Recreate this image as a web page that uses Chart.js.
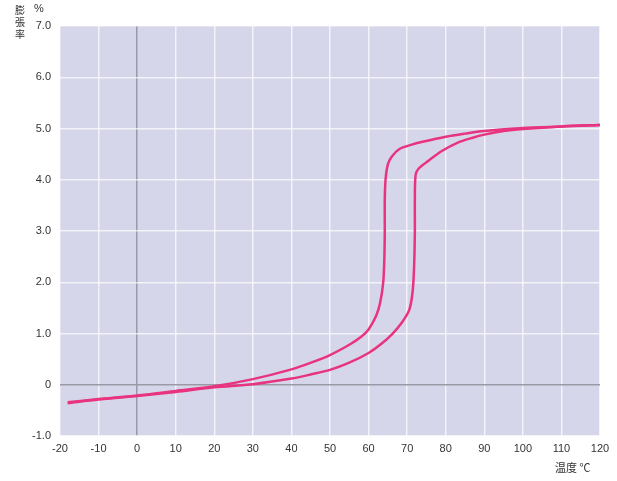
<!DOCTYPE html>
<html>
<head>
<meta charset="utf-8">
<script src="https://cdn.jsdelivr.net/npm/chart.js@4"></script>
<style>
  body { margin: 0; background: #fff; font-family: "Liberation Sans", Arial, sans-serif; }
  #wrap { position: relative; width: 617px; height: 481px; }
  .lbl { position: absolute; color: #333; font-size: 11px; line-height: 12px; white-space: nowrap; }
  .yc { font-family: "Noto Sans CJK JP", sans-serif; font-size: 10px; line-height: 11px; left: 15px; }
  #yunit { left: 34px; top: 2px; }
  #xlab { left: 555px; top: 461px; font-family: "Noto Sans CJK JP", sans-serif; }
</style>
</head>
<body>
<div id="wrap">
  <canvas id="chart" width="617" height="481"></canvas>
  <div class="lbl yc" style="top:4px">膨</div>
  <div class="lbl yc" style="top:16px">張</div>
  <div class="lbl yc" style="top:28px">率</div>
  <div class="lbl" id="yunit">%</div>
  <div class="lbl" id="xlab">温度 ℃</div>
</div>
<script>
// cooling curve (upper / left branch)
var coolX = [-18, -10, 0, 10, 20, 30, 40, 45, 50, 55, 58, 60, 62, 63, 63.8, 64.1, 64.2, 64.2, 64.4, 65, 66, 68, 71, 74, 80, 85, 90, 100, 110, 120];
var coolY = [-0.34, -0.28, -0.21, -0.12, -0.03, 0.11, 0.30, 0.43, 0.58, 0.78, 0.93, 1.08, 1.35, 1.6, 2.0, 2.5, 3.0, 3.6, 4.0, 4.3, 4.45, 4.6, 4.68, 4.74, 4.84, 4.9, 4.95, 5.01, 5.04, 5.07];
// heating curve (lower / right branch)
var heatX = [-18, -10, 0, 10, 20, 30, 40, 45, 50, 55, 60, 63, 66, 68.5, 70.5, 71.4, 71.8, 72, 72, 72.2, 73, 75.5, 79, 83, 87, 90, 95, 100, 110, 120];
var heatY = [-0.36, -0.29, -0.22, -0.14, -0.05, 0.01, 0.12, 0.20, 0.29, 0.43, 0.62, 0.78, 0.98, 1.2, 1.45, 1.8, 2.3, 3.0, 3.6, 4.1, 4.22, 4.37, 4.56, 4.72, 4.82, 4.88, 4.95, 4.99, 5.04, 5.07];
var xTicks = [-20, -10, 0, 10, 20, 30, 40, 50, 60, 70, 80, 90, 100, 110, 120];
var yTicks = [-1, 0, 1, 2, 3, 4, 5, 6, 7];

function pts(xs, ys) {
  return xs.map(function (x, i) { return { x: x, y: ys[i] }; });
}

var plotBg = {
  id: 'plotBg',
  beforeDraw: function (chart) {
    var a = chart.chartArea, c = chart.ctx;
    c.save();
    c.fillStyle = '#d6d6ea';
    c.fillRect(a.left, a.top, a.right - a.left, a.bottom - a.top);
    c.restore();
  }
};

function gridColor(ctx) {
  return ctx.tick && ctx.tick.value === 0 ? '#9a9aa6' : 'rgba(255,255,255,0.7)';
}

var ctx = document.getElementById('chart').getContext('2d');
var myChart = new Chart(ctx, {
  type: 'scatter',
  data: {
    datasets: [{
      label: 'cool',
      data: pts(coolX, coolY),
      showLine: true,
      borderColor: '#e8337f',
      borderWidth: 2.5,
      pointRadius: 0,
      tension: 0.3
    }, {
      label: 'heat',
      data: pts(heatX, heatY),
      showLine: true,
      borderColor: '#e8337f',
      borderWidth: 2.5,
      pointRadius: 0,
      tension: 0.3
    }]
  },
  options: {
    responsive: false,
    animation: false,
    layout: { padding: { top: 26, right: 17, left: 0, bottom: 0 } },
    plugins: { legend: { display: false }, tooltip: { enabled: false } },
    scales: {
      x: {
        type: 'linear',
        min: -20, max: 120,
        afterBuildTicks: function (s) { s.ticks = xTicks.map(function (v) { return { value: v }; }); },
        afterFit: function (s) { s.height = 45; },
        border: { display: false },
        grid: { color: gridColor, lineWidth: 1.5, drawTicks: false },
        ticks: { autoSkip: false, maxRotation: 0, padding: 6, color: '#333', font: { family: 'Liberation Sans', size: 11 } }
      },
      y: {
        min: -1, max: 7,
        afterBuildTicks: function (s) { s.ticks = yTicks.map(function (v) { return { value: v }; }); },
        afterFit: function (s) { s.width = 60; },
        border: { display: false },
        grid: { color: gridColor, lineWidth: 1.5, drawTicks: false },
        ticks: {
          padding: 9, color: '#333', font: { family: 'Liberation Sans', size: 11 },
          callback: function (v) { return v === 0 ? '0' : v.toFixed(1); }
        }
      }
    }
  },
  plugins: [plotBg]
});
</script>
</body>
</html>
